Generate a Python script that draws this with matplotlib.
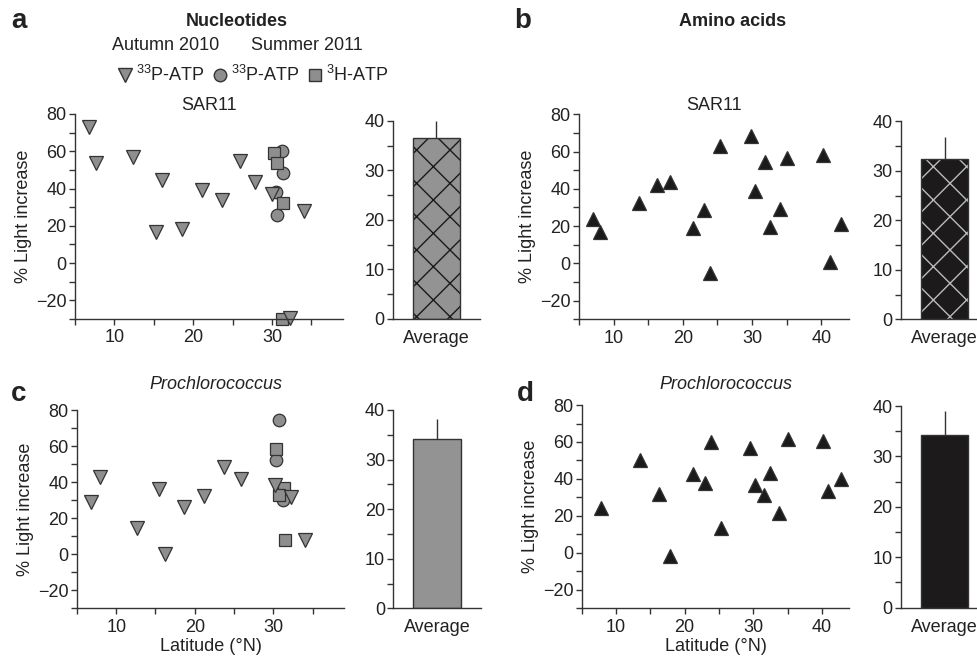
import matplotlib
matplotlib.use("Agg")
import matplotlib.pyplot as plt
from matplotlib.lines import Line2D
from matplotlib.ticker import MultipleLocator

plt.rcParams['font.family'] = ['Liberation Sans', 'DejaVu Sans']
plt.rcParams['mathtext.fontset'] = 'custom'
plt.rcParams['mathtext.rm'] = 'Liberation Sans'
plt.rcParams['mathtext.it'] = 'Liberation Sans:italic'
plt.rcParams['font.size'] = 13
plt.rcParams['text.color'] = '#222222'
plt.rcParams['axes.labelcolor'] = '#222222'
plt.rcParams['xtick.color'] = '#333333'
plt.rcParams['ytick.color'] = '#333333'
plt.rcParams['xtick.labelcolor'] = '#222222'
plt.rcParams['ytick.labelcolor'] = '#222222'

# --- data ---
# a: nucleotides, SAR11
a_tri_lat = [6.8, 7.7, 12.4, 15.3, 16.1, 18.6, 21.1, 23.6, 25.9, 27.9, 30.0, 34.0, 32.3]
a_tri_val = [72.8, 53.8, 57.0, 16.7, 44.5, 18.3, 39.1, 33.6, 54.9, 43.5, 37.0, 27.7, -29.4]
a_circ_lat = [31.3, 31.4, 30.5, 30.6]
a_circ_val = [60.3, 48.4, 38.2, 25.7]
a_sq_lat = [30.3, 30.6, 31.4, 31.2]
a_sq_val = [59.2, 53.5, 32.3, -30.0]
a_avg, a_err = 36.5, 3.6

# b: amino acids, SAR11
b_lat = [7.0, 8.0, 13.7, 16.3, 18.1, 21.4, 23.1, 23.9, 25.4, 29.8, 30.4, 31.8,
         32.6, 34.0, 35.0, 40.2, 41.2, 42.8]
b_val = [23.8, 16.6, 32.4, 42.1, 43.5, 18.9, 28.5, -5.3, 62.8, 68.5, 38.9, 54.5,
         19.5, 29.0, 56.5, 58.1, 1.0, 20.9]
b_avg, b_err = 32.3, 4.6

# c: nucleotides, Prochlorococcus
c_tri_lat = [6.8, 7.9, 12.6, 15.5, 16.2, 18.6, 21.2, 23.7, 25.9, 30.2, 32.3, 34.1]
c_tri_val = [29.3, 43.0, 14.9, 36.5, 0.3, 26.5, 32.2, 48.5, 42.1, 38.5, 31.8, 7.8]
c_circ_lat = [30.7, 30.4, 31.3]
c_circ_val = [74.9, 52.2, 30.3]
c_sq_lat = [30.4, 31.4, 30.7, 31.5]
c_sq_val = [58.4, 36.8, 32.7, 8.1]
c_avg, c_err = 34.1, 4.1

# d: amino acids, Prochlorococcus
d_lat = [7.8, 13.5, 16.2, 17.9, 21.2, 23.0, 23.8, 25.3, 29.6, 30.2, 32.4, 31.6,
         33.8, 35.0, 40.1, 40.9, 42.8]
d_val = [24.5, 50.2, 31.8, -1.8, 42.6, 37.9, 60.1, 13.5, 56.9, 36.6, 43.0, 31.4,
         21.5, 61.6, 60.5, 33.6, 40.1]
d_avg, d_err = 34.3, 4.7

gray = '#8e8e8e'
edge = '#333333'
black = '#1c1a1b'

fig = plt.figure(figsize=(9.78, 6.63), dpi=100)


def style_scatter(ax, xmax, xlabel=False):
    for s in ['top', 'right']:
        ax.spines[s].set_visible(False)
    for s in ['left', 'bottom']:
        ax.spines[s].set_color(edge)
        ax.spines[s].set_linewidth(1)
    ax.set_xlim(5, xmax)
    ax.set_ylim(-30, 80)
    ax.xaxis.set_major_locator(MultipleLocator(10))
    ax.xaxis.set_minor_locator(MultipleLocator(5))
    ax.yaxis.set_major_locator(MultipleLocator(20))
    ax.yaxis.set_minor_locator(MultipleLocator(10))
    ax.tick_params(which='both', direction='out', length=4, width=1)
    ax.tick_params(axis='y', pad=2)
    ax.set_ylabel('% Light increase', labelpad=3)
    if xlabel:
        ax.set_xlabel('Latitude (°N)', labelpad=2)


def bar_panel(ax, avg, err, color, hatch_color=None):
    for s in ['top', 'right']:
        ax.spines[s].set_visible(False)
    for s in ['left', 'bottom']:
        ax.spines[s].set_color(edge)
        ax.spines[s].set_linewidth(1)
    if hatch_color is not None:
        ax.bar([0], [avg], width=0.55, color=color, edgecolor=hatch_color,
               hatch='x', linewidth=0)
        ax.bar([0], [avg], width=0.55, color='none', edgecolor=edge, linewidth=1)
    else:
        ax.bar([0], [avg], width=0.55, color=color, edgecolor=edge, linewidth=1)
    ax.errorbar([0], [avg], yerr=[[0], [err]], fmt='none', ecolor=edge,
                elinewidth=1, capsize=0)
    ax.set_xlim(-0.5, 0.5)
    ax.set_ylim(0, 40)
    ax.yaxis.set_major_locator(MultipleLocator(10))
    ax.yaxis.set_minor_locator(MultipleLocator(5))
    ax.set_xticks([0])
    ax.set_xticklabels(['Average'])
    ax.tick_params(which='both', direction='out', length=4, width=1)
    ax.tick_params(axis='x', length=0, pad=8)
    ax.tick_params(axis='y', pad=2)


mk = dict(linestyle='none', markeredgecolor=edge, markeredgewidth=0.9, clip_on=False)

# panel a
ax_a = fig.add_axes([0.0767, 0.5189, 0.2740, 0.3092])
ax_a.plot(a_circ_lat, a_circ_val, 'o', ms=9, color=gray, **mk)
ax_a.plot(a_sq_lat, a_sq_val, 's', ms=8.5, color=gray, **mk)
ax_a.plot(a_tri_lat, a_tri_val, 'v', ms=9.5, color=gray, **mk)
style_scatter(ax_a, 39)
ax_a.set_title('SAR11', fontsize=13, pad=0)
ax_ab = fig.add_axes([0.4018, 0.5189, 0.0890, 0.2986])
bar_panel(ax_ab, a_avg, a_err, '#939393', hatch_color='#1a1a1a')

# panel b
ax_b = fig.add_axes([0.5920, 0.5184, 0.2761, 0.3092])
ax_b.plot(b_lat, b_val, '^', ms=9.5, color=black, **mk)
style_scatter(ax_b, 44)
ax_b.set_title('SAR11', fontsize=13, pad=0)
ax_bb = fig.add_axes([0.9213, 0.5184, 0.0890, 0.2986])
bar_panel(ax_bb, b_avg, b_err, black, hatch_color='#bbbbbb')

# panel c
ax_c = fig.add_axes([0.0787, 0.0825, 0.2730, 0.2985])
ax_c.plot(c_circ_lat, c_circ_val, 'o', ms=9, color=gray, **mk)
ax_c.plot(c_sq_lat, c_sq_val, 's', ms=8.5, color=gray, **mk)
ax_c.plot(c_tri_lat, c_tri_val, 'v', ms=9.5, color=gray, **mk)
style_scatter(ax_c, 39, xlabel=True)
ax_cb = fig.add_axes([0.4022, 0.0825, 0.0894, 0.2991])
bar_panel(ax_cb, c_avg, c_err, '#939393')

# panel d
ax_d = fig.add_axes([0.5948, 0.0825, 0.2736, 0.3066])
ax_d.plot(d_lat, d_val, '^', ms=9.5, color=black, **mk)
style_scatter(ax_d, 44, xlabel=True)
ax_db = fig.add_axes([0.9213, 0.0834, 0.0890, 0.3042])
bar_panel(ax_db, d_avg, d_err, black)

# headers and panel letters
W, H = 978.0, 663.0
def ft(x, y, s, **kw):
    fig.text(x / W, 1 - y / H, s, ha='center', va='center', **kw)

ft(19, 21, 'a', fontsize=20, fontweight='bold')
ft(523, 21, 'b', fontsize=20, fontweight='bold')
ft(19, 394, 'c', fontsize=20, fontweight='bold')
ft(525, 394, 'd', fontsize=20, fontweight='bold')
ft(237, 21, 'Nucleotides', fontsize=13, fontweight='bold')
ft(733, 21, 'Amino acids', fontsize=13, fontweight='bold')
ft(166, 46, 'Autumn 2010', fontsize=13)
ft(307, 46, 'Summer 2011', fontsize=13)
ft(216, 384, 'Prochlorococcus', fontsize=13, style='italic')
ft(726, 384, 'Prochlorococcus', fontsize=13, style='italic')

handles = [
    Line2D([], [], marker='v', ms=9.5, color=gray, markeredgecolor=edge, linestyle='none'),
    Line2D([], [], marker='o', ms=9, color=gray, markeredgecolor=edge, linestyle='none'),
    Line2D([], [], marker='s', ms=8.5, color=gray, markeredgecolor=edge, linestyle='none'),
]
fig.legend(handles, ['$^{33}$P-ATP', '$^{33}$P-ATP', '$^{3}$H-ATP'], loc='center',
           bbox_to_anchor=(254 / W, 1 - 75 / H), ncol=3, frameon=False,
           fontsize=13, handlelength=0.7, handletextpad=0.25, columnspacing=0.5,
           borderpad=0, borderaxespad=0)

fig.savefig('out.png', dpi=100)
